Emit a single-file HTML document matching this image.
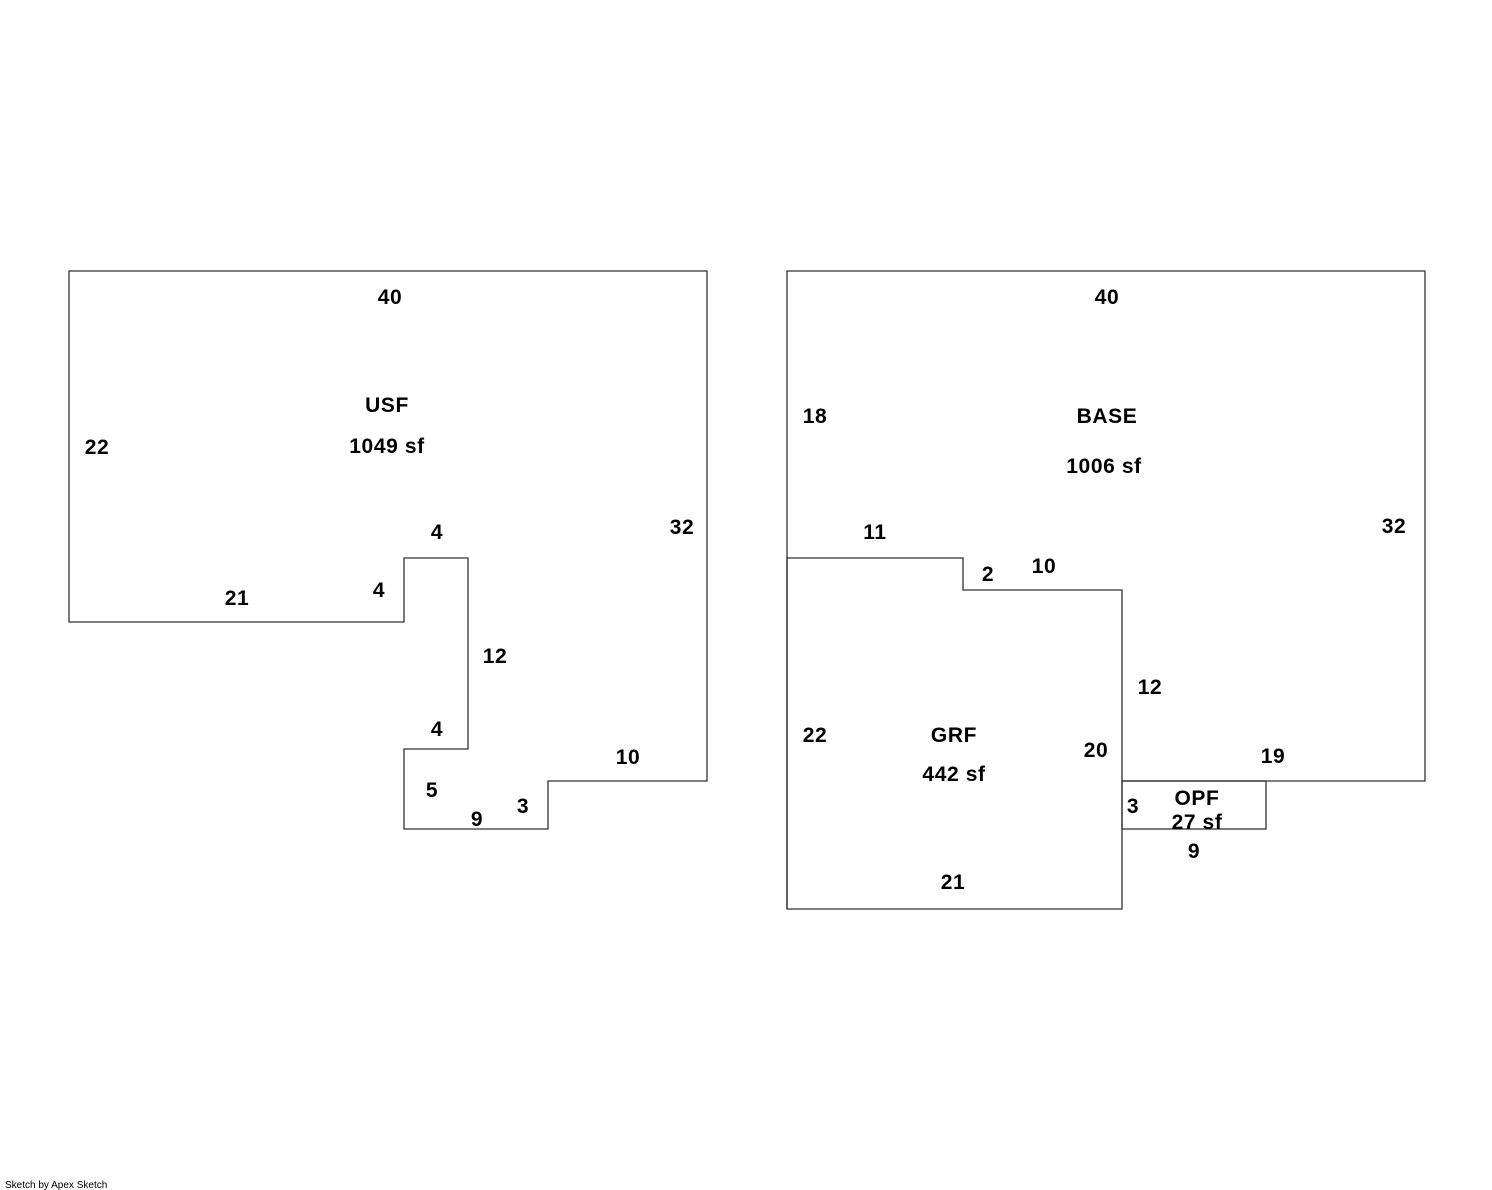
<!DOCTYPE html>
<html><head><meta charset="utf-8"><style>
html,body{margin:0;padding:0;background:#fff;}
svg{display:block;}
text{font-family:"Liberation Sans",Arial,sans-serif;font-weight:bold;font-size:21px;letter-spacing:0.6px;fill:#000;text-anchor:middle;}
.s{font-size:10px;font-weight:normal;letter-spacing:0;text-anchor:start;}
</style></head><body>
<svg width="1492" height="1190" viewBox="0 0 1492 1190" xmlns="http://www.w3.org/2000/svg">
<g fill="none" stroke="#333" stroke-width="1.3">
<polygon points="69,271 707,271 707,781 548,781 548,829 404,829 404,749 468,749 468,558 404,558 404,622 69,622"/>
<polyline points="787,909 787,271 1425,271 1425,781 1122,781"/>
<polygon points="787,558 963,558 963,590 1122,590 1122,909 787,909"/>
<rect x="1122" y="781" width="144" height="48"/>
</g>
<g>
<text x="390" y="304">40</text>
<text x="387" y="412">USF</text>
<text x="387" y="453">1049 sf</text>
<text x="97" y="454">22</text>
<text x="682" y="534">32</text>
<text x="437" y="539">4</text>
<text x="237" y="605">21</text>
<text x="379" y="597">4</text>
<text x="495" y="663">12</text>
<text x="437" y="736">4</text>
<text x="628" y="764">10</text>
<text x="432" y="797">5</text>
<text x="523" y="813">3</text>
<text x="477" y="826">9</text>

<text x="1107" y="304">40</text>
<text x="815" y="423">18</text>
<text x="1107" y="423">BASE</text>
<text x="1104" y="473">1006 sf</text>
<text x="1394" y="533">32</text>
<text x="875" y="539">11</text>
<text x="988" y="581">2</text>
<text x="1044" y="573">10</text>
<text x="1150" y="694">12</text>
<text x="815" y="742">22</text>
<text x="954" y="742">GRF</text>
<text x="954" y="781">442 sf</text>
<text x="1096" y="757">20</text>
<text x="1273" y="763">19</text>
<text x="1197" y="805">OPF</text>
<text x="1197" y="829">27 sf</text>
<text x="1133" y="813">3</text>
<text x="1194" y="858">9</text>
<text x="953" y="889">21</text>
<text class="s" x="5" y="1188">Sketch by Apex Sketch</text>
</g>
</svg>
</body></html>
